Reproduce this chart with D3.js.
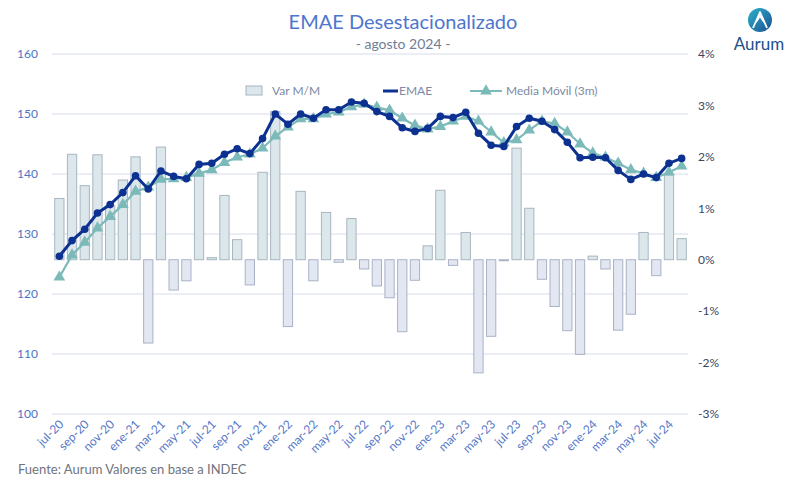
<!DOCTYPE html>
<html><head><meta charset="utf-8">
<script src="https://cdn.jsdelivr.net/npm/d3@7"></script>
<style>body{margin:0;background:#fff}svg{display:block}text{font-family:Lato,"Noto Sans",sans-serif}</style>
</head><body>
<script>
const months = ["jul-20","ago-20","sep-20","oct-20","nov-20","dic-20","ene-21","feb-21","mar-21","abr-21","may-21","jun-21","jul-21","ago-21","sep-21","oct-21","nov-21","dic-21","ene-22","feb-22","mar-22","abr-22","may-22","jun-22","jul-22","ago-22","sep-22","oct-22","nov-22","dic-22","ene-23","feb-23","mar-23","abr-23","may-23","jun-23","jul-23","ago-23","sep-23","oct-23","nov-23","dic-23","ene-24","feb-24","mar-24","abr-24","may-24","jun-24","jul-24","ago-24"];
const emae = [126.3,128.9,130.8,133.5,134.9,136.9,139.7,137.5,140.5,139.6,139.2,141.6,141.8,143.3,144.2,143.4,145.9,150.0,148.3,150.0,149.3,150.7,150.7,152.0,151.8,150.4,149.6,147.7,147.1,147.6,149.6,149.4,150.3,146.8,144.8,144.6,147.9,149.3,148.8,147.4,145.3,142.7,142.8,142.7,140.6,139.1,140.0,139.4,141.8,142.6];
const mediaMovil = [122.8,126.5,128.6,131.0,132.9,134.9,137.1,137.8,139.1,139.2,139.4,140.1,140.7,141.9,142.8,143.3,144.3,146.3,147.8,149.2,149.2,150.0,150.3,151.2,151.6,151.1,150.6,149.3,148.1,147.5,147.9,148.8,149.6,148.8,147.0,145.2,145.7,147.3,148.8,148.4,147.0,145.0,143.5,142.8,141.8,140.7,140.1,139.4,140.3,141.3];
const varMM = [1.19,2.05,1.44,2.04,1.05,1.55,2.0,-1.62,2.19,-0.59,-0.41,1.68,0.04,1.25,0.39,-0.49,1.70,2.88,-1.30,1.33,-0.41,0.92,-0.05,0.80,-0.18,-0.51,-0.74,-1.40,-0.40,0.27,1.35,-0.11,0.53,-2.20,-1.49,-0.02,2.17,1.0,-0.38,-0.91,-1.38,-1.84,0.07,-0.18,-1.37,-1.06,0.53,-0.31,1.65,0.41];
const leftTicks = [100,110,120,130,140,150,160];
const rightTicks = [-3,-2,-1,0,1,2,3,4];
const xTickLabels = months.filter((m,i)=>i%2===0);

const W=799,H=487;
const svg = d3.select("body").append("svg").attr("width",W).attr("height",H);

const x = d3.scaleBand().domain(months).range([53,688]).paddingInner(0.27).paddingOuter(0.135);
const yL = d3.scaleLinear().domain([100,160]).range([414,54]);
const yR = d3.scaleLinear().domain([-3,4]).range([414,54]);
const cx = m => x(m)+x.bandwidth()/2;

// gridlines
svg.append("g").selectAll("line").data(leftTicks).join("line")
  .attr("x1",52).attr("x2",688).attr("y1",d=>yL(d)).attr("y2",d=>yL(d))
  .attr("stroke","#d6dcea").attr("stroke-width",1);

// left axis
const axL = svg.append("g").attr("transform","translate(40,0)")
  .call(d3.axisLeft(yL).tickValues(leftTicks).tickSize(0).tickPadding(2));
axL.select(".domain").remove();
axL.selectAll("text").attr("fill","#4f72c4").style("font-size","12px");

// right axis
const axR = svg.append("g").attr("transform","translate(696,0)")
  .call(d3.axisRight(yR).tickValues(rightTicks).tickSize(0).tickPadding(2).tickFormat(d=>d+"%"));
axR.select(".domain").remove();
axR.selectAll("text").attr("fill","#3b4660").style("font-size","12px");

// bars
svg.append("g").selectAll("rect").data(varMM).join("rect")
  .attr("x",(d,i)=>x(months[i]))
  .attr("width",x.bandwidth())
  .attr("y",d=>Math.min(yR(d),yR(0)))
  .attr("height",d=>Math.max(1,Math.abs(yR(d)-yR(0))))
  .attr("fill",d=>d>=0?"#dbe7eb":"#e2e7f1")
  .attr("stroke",d=>d>=0?"#a8b6c0":"#a9b2c6").attr("stroke-width",1);

// MA line
const lineMA = d3.line().x((d,i)=>cx(months[i])).y(d=>yL(d));
svg.append("path").datum(mediaMovil).attr("d",lineMA).attr("fill","none")
  .attr("stroke","#7cbaba").attr("stroke-width",2.2);
const tri = d3.symbol().type(d3.symbolTriangle).size(60);
svg.append("g").selectAll("path").data(mediaMovil).join("path")
  .attr("d",tri).attr("transform",(d,i)=>`translate(${cx(months[i])},${yL(d)})`)
  .attr("fill","#7cbaba");

// EMAE line
svg.append("path").datum(emae).attr("d",d3.line().x((d,i)=>cx(months[i])).y(d=>yL(d)))
  .attr("fill","none").attr("stroke","#0c3190").attr("stroke-width",3);
svg.append("g").selectAll("circle").data(emae).join("circle")
  .attr("cx",(d,i)=>cx(months[i])).attr("cy",d=>yL(d)).attr("r",3.8).attr("fill","#0c3190");

// x labels
svg.append("g").selectAll("text").data(xTickLabels).join("text")
  .attr("transform",d=>`translate(${cx(d)+2},${422}) rotate(-45)`)
  .attr("text-anchor","end").attr("dy","0.35em")
  .attr("fill","#5577c8").style("font-size","12px").text(d=>d);

// title
svg.append("text").attr("x",403).attr("y",29).attr("text-anchor","middle")
  .attr("fill","#4e76cc").style("font-size","20px").text("EMAE Desestacionalizado");
svg.append("text").attr("x",403).attr("y",49).attr("text-anchor","middle")
  .attr("fill","#6f7d96").style("font-size","14px").text("- agosto 2024 -");

// legend
const lg = svg.append("g");
lg.append("rect").attr("x",246).attr("y",86).attr("width",16).attr("height",9)
  .attr("fill","#dbe7eb").attr("stroke","#a8b6c0");
lg.append("text").attr("x",272).attr("y",95).attr("fill","#7d8aa3").style("font-size","12px").text("Var M/M");
lg.append("line").attr("x1",383).attr("x2",398).attr("y1",91).attr("y2",91).attr("stroke","#0c3190").attr("stroke-width",3);
lg.append("text").attr("x",399).attr("y",95).attr("fill","#7d8aa3").style("font-size","12px").text("EMAE");
lg.append("line").attr("x1",470).attr("x2",502).attr("y1",91).attr("y2",91).attr("stroke","#7cbaba").attr("stroke-width",2);
lg.append("path").attr("d",tri).attr("transform","translate(486,91)").attr("fill","#7cbaba");
lg.append("text").attr("x",506).attr("y",95).attr("fill","#7d8aa3").style("font-size","12px").text("Media Móvil (3m)");

// footer
svg.append("text").attr("x",18).attr("y",474).attr("fill","#6f7480").style("font-size","13px")
  .text("Fuente: Aurum Valores en base a INDEC");

// logo
const defs = svg.append("defs");
const gr = defs.append("linearGradient").attr("id","lg1").attr("x1","0").attr("y1","0").attr("x2","1").attr("y2","1");
gr.append("stop").attr("offset","0").attr("stop-color","#2bb3c9");
gr.append("stop").attr("offset","1").attr("stop-color","#1d4f94");
svg.append("circle").attr("cx",760).attr("cy",20).attr("r",12).attr("fill","url(#lg1)");
svg.append("path").attr("d","M753,28 L760,12 L767,28 M756,22 L760,16 L764,22")
  .attr("fill","none").attr("stroke","#fff").attr("stroke-width",1.8).attr("stroke-linejoin","round");
svg.append("text").attr("x",759).attr("y",50).attr("text-anchor","middle")
  .attr("fill","#1d4f8a").style("font-size","17px").text("Aurum");
</script>
</body></html>
